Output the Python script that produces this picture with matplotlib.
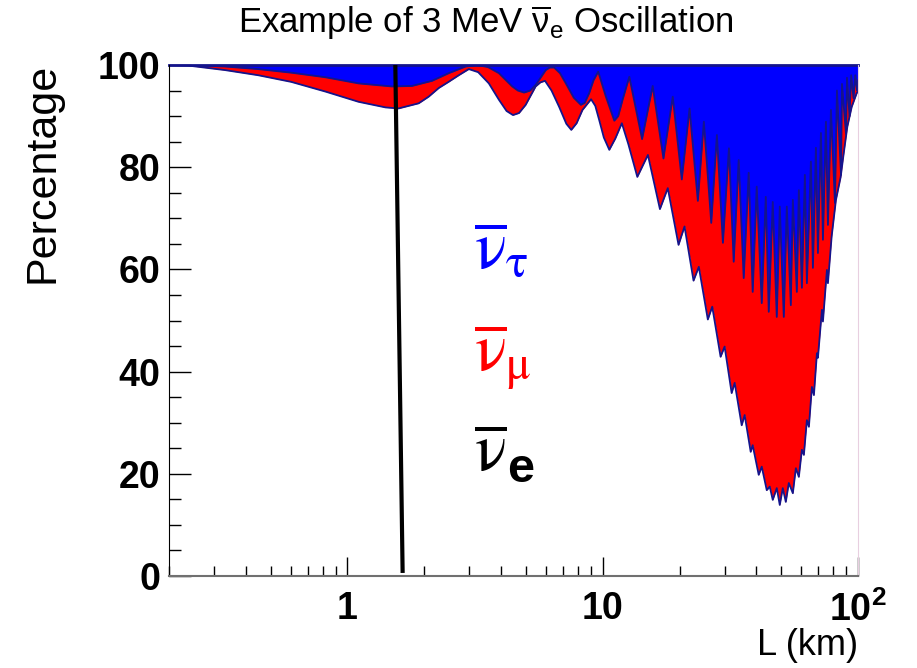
import numpy as np
import matplotlib
matplotlib.use("Agg")
import matplotlib.pyplot as plt
from matplotlib.ticker import FixedLocator, FixedFormatter, NullFormatter

plt.rcParams['font.family'] = ['Liberation Sans', 'DejaVu Sans']
plt.rcParams['mathtext.fontset'] = 'custom'
plt.rcParams['mathtext.rm'] = 'Liberation Sans'
plt.rcParams['mathtext.it'] = 'Liberation Sans:italic'
plt.rcParams['mathtext.bf'] = 'Liberation Sans:bold'

# nu_e survival (upper edge of the white area)
L_e = [0.2, 0.237, 0.332, 0.447, 0.602, 0.82, 1.105, 1.41, 1.586, 1.901, 2.08, 2.279, 2.49,
       2.73, 2.988, 3.25, 3.58, 3.92, 4.2, 4.45, 4.7, 4.99, 5.46, 5.7, 5.94, 6.3, 6.75, 7.2,
       7.53, 7.9, 8.33, 9.0, 9.35, 9.69, 10.1, 10.61, 11.2, 11.88, 12.6, 13.66,
       15.03, 16.75, 17.98, 19.81, 20.91, 22.68, 23.79, 25.80, 26.85, 28.95, 30.02, 31.99,
       32.87, 35.02, 35.97, 37.98, 38.67, 40.83, 41.96, 43.90, 45.10, 46.34, 48.05, 49.37,
       50.73, 52.13, 53.56, 55.54, 57.07, 58.64, 60.26, 61.36, 63.04, 64.20, 65.96, 67.17,
       69.02, 69.64, 72.21, 72.86, 75.54, 76.22, 78.80, 81.93, 85.51, 87.55, 90.78, 94.45,
       98.83, 100]
P_e = [100, 99.9, 99.0, 98.0, 96.7, 94.8, 92.8, 91.7, 91.5, 92.5, 93.8, 95.5, 96.7,
       98.0, 99.2, 98.6, 96.4, 93.2, 91.0, 90.2, 90.6, 92.2, 95.8, 96.6, 96.9, 95.0, 91.8, 88.5,
       87.3, 88.6, 91.2, 93.3, 92.0, 89.2, 85.8, 83.4, 85.6, 88.6, 84.5, 78.1,
       82.4, 71.8, 75.9, 64.8, 68.4, 57.8, 60.5, 50.2, 52.7, 42.9, 44.9, 35.8,
       37.8, 29.5, 31.5, 24.3, 25.6, 19.8, 21.4, 16.8, 17.5, 14.9, 17.2, 13.9,
       17.2, 14.5, 18.2, 16.2, 21.1, 19.4, 24.7, 23.7, 30.5, 29.2, 37.0, 35.4,
       43.6, 42.7, 52.1, 49.8, 59.9, 57.3, 66.4, 73.6, 78.1, 82.1, 87.9, 91.8,
       94.5, 94.8]

# nu_e + nu_mu (upper edge of the red area)
L_em = [0.2, 0.237, 0.332, 0.447, 0.602, 0.82, 1.105, 1.493, 1.789, 2.144, 2.494, 2.901, 3.213,
        3.55, 3.92, 4.42, 4.65, 4.92, 5.2, 5.46, 5.98, 6.2, 6.45, 6.8, 7.17, 7.7, 8.21, 8.5,
        8.85, 9.2, 9.6, 10.29, 11.1, 11.5, 11.96, 12.71,
        14.26, 15.69, 17.29, 18.80, 20.40, 21.88, 23.58, 24.89, 26.61, 28.00, 29.56, 31.21,
        32.58, 34.08, 35.66, 37.30, 38.67, 40.10, 41.96, 43.51, 44.70, 46.34, 48.05, 49.37,
        51.19, 52.60, 54.54, 55.54, 57.58, 58.64, 60.26, 61.91, 63.04, 65.37, 66.56, 68.39,
        69.64, 71.56, 72.86, 74.86, 76.22, 78.32, 81.2, 82.68, 85.76, 86.52, 89.7, 90.5,
        92.6, 94.0, 96.0, 97.5, 99.1, 100]
P_em = [100, 100, 99.7, 99.2, 98.5, 97.6, 96.4, 95.8, 95.9, 96.9, 98.4, 99.7, 100,
        99.6, 98.4, 95.8, 95.0, 94.6, 95.0, 96.1, 99.0, 99.5, 99.5, 98.4, 96.4, 93.6, 92.2, 92.6,
        94.5, 97.0, 98.7, 93.8, 89.1, 90.0, 93.2, 97.7,
        85.5, 95.9, 81.7, 93.8, 77.6, 91.5, 73.4, 88.9, 69.1, 86.3, 65.2, 83.7,
        61.5, 81.4, 58.3, 78.9, 55.6, 76.2, 53.4, 74.2, 51.7, 73.2, 50.7, 72.3,
        50.7, 72.3, 53.0, 73.6, 55.6, 75.5, 56.4, 78.5, 57.3, 81.1, 60.3, 83.8,
        63.2, 86.7, 65.8, 88.9, 68.7, 91.2, 73.0, 95.0, 78.5, 96.3, 86.5, 97.5,
        90.0, 98.0, 93.5, 98.0, 95.0, 97.0]

# black marker line
mark_L = [1.54, 1.645]
mark_P = [100, 0.6]

y_ticks = [0, 20, 40, 60, 80, 100]
x_ticks = [1, 10, 100]
x_labels = ['1', '10', r'$\mathbf{10^{2}}$']

fig = plt.figure(figsize=(9.17, 6.68), dpi=100)
ax = fig.add_axes([0.1843, 0.1377, 0.7514, 0.765])
ax.set_xscale('log')

ax.fill_between(L_e, P_e, 100, color='#ff0000', lw=0)
ax.fill_between(L_em, P_em, 100, color='#0000ff', lw=0)
ax.plot(L_e, P_e, color='#14148c', lw=1.3)
ax.plot(L_em, P_em, color='#14148c', lw=1.3)
ax.axhline(100, color='#14148c', lw=2, clip_on=False)
ax.plot(mark_L, mark_P, color='black', lw=3, solid_capstyle='butt')

ax.set_xlim(0.2, 100)
ax.set_ylim(0, 100)

ax.spines['top'].set_visible(False)
ax.spines['right'].set_color('#e8cfe0')
ax.spines['left'].set_color('black')
ax.spines['bottom'].set_color('#707070')
ax.spines['bottom'].set_linewidth(1.5)

ax.set_yticks(y_ticks)
ax.set_yticks(np.arange(0, 101, 5), minor=True)
ax.xaxis.set_major_locator(FixedLocator(x_ticks))
ax.xaxis.set_major_formatter(FixedFormatter(x_labels))
minor_x = [m * d for d in (0.1, 1, 10) for m in range(2, 10) if 0.2 <= m * d < 100]
ax.xaxis.set_minor_locator(FixedLocator(minor_x))
ax.xaxis.set_minor_formatter(NullFormatter())

ax.tick_params(axis='y', which='major', direction='in', length=16, width=1, pad=6)
ax.tick_params(axis='y', which='minor', direction='in', length=8.5, width=1)
ax.tick_params(axis='x', which='major', direction='in', length=14, width=1, pad=11)
ax.tick_params(axis='x', which='minor', direction='in', length=7, width=1)
ax.tick_params(right=False, top=False, which='both')
for lab in ax.get_xticklabels() + ax.get_yticklabels():
    lab.set_fontsize(27)
    lab.set_fontweight('bold')

fig.text(0.530, 0.966, r'Example of 3 MeV $\overline{\mathrm{\nu}}_{\mathrm{e}}$ Oscillation',
         ha='center', va='center', fontsize=25)
ax.text(-0.184, 0.789, 'Percentage', transform=ax.transAxes, rotation=90,
        ha='center', va='center', fontsize=31)
ax.text(1.0, -0.135, 'L (km)', transform=ax.transAxes, ha='right', va='center', fontsize=26)

# flavour labels
ax.text(3.13, 60.3, r'$\overline{\mathrm{\nu}}_{\mathrm{\tau}}$', color='#0000ff',
        fontsize=48, math_fontfamily='stix', ha='left', va='baseline')
ax.text(3.13, 40.3, r'$\overline{\mathrm{\nu}}_{\mathrm{\mu}}$', color='#ff0000',
        fontsize=48, math_fontfamily='stix', ha='left', va='baseline')
ax.text(3.13, 20.7, r'$\overline{\mathrm{\nu}}$', color='black',
        fontsize=48, math_fontfamily='stix', ha='left', va='baseline')
ax.text(4.22, 18.4, 'e', color='black', fontsize=35, fontweight='bold',
        ha='left', va='baseline')

fig.savefig('out.png', dpi=100)
